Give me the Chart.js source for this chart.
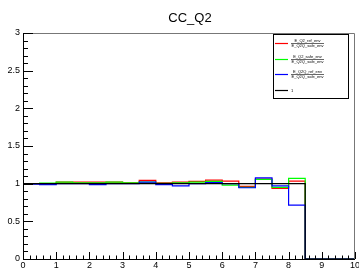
<!DOCTYPE html>
<html><head><meta charset="utf-8">
<script src="https://cdn.jsdelivr.net/npm/chart.js@4/dist/chart.umd.min.js"></script>
<style>html,body{margin:0;padding:0;background:#fff}#wrap{width:359px;height:270px;position:relative}</style>
</head><body><div id="wrap"><canvas id="c" width="359" height="270"></canvas></div>
<script>
const binEdges = [0,0.5,1,1.5,2,2.5,3,3.5,4,4.5,5,5.5,6,6.5,7,7.5,8,8.5,9,9.5,10];
const redValues   = [1.00,1.00,1.02,1.02,1.02,1.02,1.012,1.044,1.012,1.02,1.03,1.048,1.035,0.964,1.06,0.938,1.035,0,0,0];
const greenValues = [1.00,1.008,1.02,1.01,1.01,1.02,1.01,1.02,1.005,1.01,1.02,1.03,0.98,0.95,1.057,0.95,1.07,0,0,0];
const blueValues  = [0.995,0.987,1.0,1.0,0.987,1.0,1.0,1.02,0.987,0.97,1.0,1.015,1.0,0.946,1.078,0.972,0.716,0,0,0];
const blackValues = [1,1,1,1,1,1,1,1,1,1,1,1,1,1,1,1,1,0,0,0];
const legendLabels = [
  ["E_Q2_ref_env","E_Q2Q_safe_env"],
  ["E_Q2_safe_env","E_Q2Q_safe_env"],
  ["E_Q2Q_ref_env","E_Q2Q_safe_env"],
  ["1"]
];
const xTickLabels = ["0","1","2","3","4","5","6","7","8","9","10"];
const yTickLabels = ["0","0.5","1","1.5","2","2.5","3"];
const chartTitle = "CC_Q2";

function toPts(vals){
  const pts = vals.map((v,i)=>({x:binEdges[i],y:v}));
  pts.push({x:binEdges[binEdges.length-1], y:vals[vals.length-1]});
  return pts;
}
const colors = ['#ff0000','#00ff00','#0000ff','#000000'];
const series = [redValues, greenValues, blueValues, blackValues];

const rootPlugin = {
  id:'rootPlugin',
  afterDraw(chart){
    const ctx = chart.ctx, a = chart.chartArea, xs = chart.scales.x, ys = chart.scales.y;
    ctx.save();
    ctx.strokeStyle = '#000'; ctx.lineWidth = 1;
    ctx.beginPath();
    ctx.moveTo(a.left+0.5, a.top); ctx.lineTo(a.left+0.5, a.bottom+0.5);
    ctx.lineTo(a.right, a.bottom+0.5);
    ctx.stroke();
    ctx.strokeStyle = '#777';
    ctx.beginPath();
    ctx.moveTo(a.left, a.top+0.5); ctx.lineTo(a.right-0.5, a.top+0.5); ctx.lineTo(a.right-0.5, a.bottom);
    ctx.stroke();
    ctx.strokeStyle = '#000';
    ctx.beginPath();
    for(let i=0;i<=50;i++){
      const v = i*0.2; const px = Math.round(xs.getPixelForValue(v))+0.5;
      const len = (i%5===0)?7:3.5;
      ctx.moveTo(px, a.bottom); ctx.lineTo(px, a.bottom-len);
    }
    for(let i=0;i<=30;i++){
      const v = i*0.1; const py = Math.round(ys.getPixelForValue(v))+0.5;
      const len = (i%5===0)?10:5;
      ctx.moveTo(a.left, py); ctx.lineTo(a.left+len, py);
    }
    ctx.stroke();
    ctx.fillStyle = '#000';
    ctx.font = '13px "Liberation Sans", Arial, sans-serif';
    ctx.textAlign = 'center'; ctx.textBaseline = 'alphabetic';
    ctx.fillText(chartTitle, 190, 22.3);
    const bx = 273, by = 34.5, bw = 75, bh = 64;
    ctx.fillStyle = '#fff'; ctx.fillRect(bx,by,bw,bh);
    ctx.strokeStyle = '#000'; ctx.lineWidth = 1;
    ctx.strokeRect(bx+0.5,by,bw,bh);
    const rowsY = [43.5, 59.5, 74.5, 90.5];
    legendLabels.forEach((lab,i)=>{
      ctx.strokeStyle = colors[i]; ctx.lineWidth = 1.2;
      ctx.beginPath(); ctx.moveTo(275, rowsY[i]); ctx.lineTo(288, rowsY[i]); ctx.stroke();
      ctx.fillStyle = '#000';
      ctx.font = '4px "Liberation Sans", Arial, sans-serif';
      if(lab.length===2){
        ctx.textAlign='center'; ctx.textBaseline='middle';
        const cx = 307.5;
        ctx.fillText(lab[0], cx, rowsY[i]-2.6);
        ctx.fillText(lab[1], cx, rowsY[i]+2.6);
        ctx.strokeStyle='#000'; ctx.lineWidth=0.6;
        ctx.beginPath(); ctx.moveTo(291, rowsY[i]); ctx.lineTo(324, rowsY[i]); ctx.stroke();
      } else {
        ctx.textAlign='left'; ctx.textBaseline='middle';
        ctx.fillText(lab[0], 291, rowsY[i]);
      }
    });
    ctx.restore();
  }
};

new Chart(document.getElementById('c'), {
  type:'line',
  data:{
    datasets: series.map((vals,i)=>({
      data: toPts(vals),
      borderColor: colors[i],
      borderWidth: 1.2,
      pointRadius: 0,
      stepped: true,
      fill: false,
      order: 3-i
    }))
  },
  options:{
    responsive:false, animation:false,
    layout:{padding:{top:33, right:4, left:0, bottom:0}},
    plugins:{legend:{display:false}, tooltip:{enabled:false}, title:{display:false}},
    scales:{
      x:{type:'linear', min:0, max:10,
        grid:{display:false, drawTicks:false},
        border:{display:false},
        afterFit(s){ s.height = 11; s.paddingLeft = 0; s.paddingRight = 0; },
        afterBuildTicks(s){ s.ticks = xTickLabels.map(t=>({value:parseFloat(t)})); },
        ticks:{padding:1, maxRotation:0, autoSkip:false, color:'#000',
          font:{family:'"Liberation Sans", Arial, sans-serif', size:9},
          callback:(v)=>String(v)}
      },
      y:{type:'linear', min:0, max:3,
        grid:{display:false, drawTicks:false},
        border:{display:false},
        afterFit(s){ s.width = 23; s.paddingTop = 0; s.paddingBottom = 0; },
        afterBuildTicks(s){ s.ticks = yTickLabels.map(t=>({value:parseFloat(t)})); },
        ticks:{padding:3, autoSkip:false, color:'#000',
          font:{family:'"Liberation Sans", Arial, sans-serif', size:9},
          callback:(v)=>String(v)}
      }
    }
  },
  plugins:[rootPlugin]
});
</script></body></html>
